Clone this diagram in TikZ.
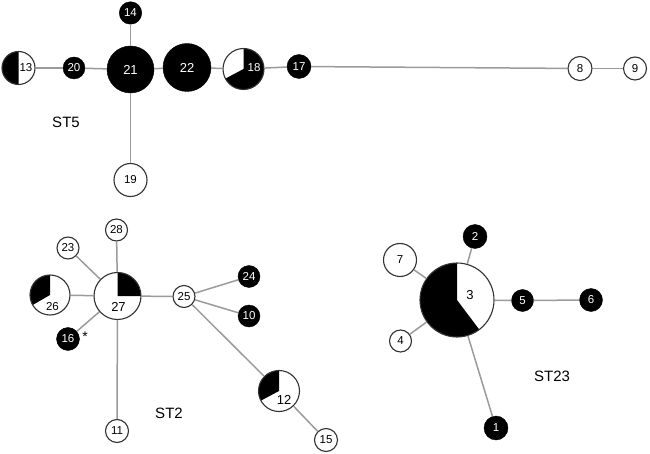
\documentclass[tikz,border=0pt]{standalone}
\usepackage{fontspec}
\setmainfont{Liberation Sans}
\definecolor{edgegray}{RGB}{155,155,155}
\definecolor{bordergray}{RGB}{50,50,50}
\tikzset{
  edge/.style={draw=edgegray, line width=1.5pt},
  numfont/.style={font=\fontsize{11.5}{13}\selectfont},
  bigfont/.style={font=\fontsize{13}{15}\selectfont},
  bn/.style={circle, draw=black, fill=black, text=white, inner sep=0pt, minimum size=#1, numfont},
  wn/.style={circle, draw=bordergray, fill=white, line width=1.1pt, inner sep=0pt, minimum size=#1, numfont},
  pie/.style n args={3}{circle, draw=bordergray, fill=white, line width=1.1pt, inner sep=0pt, minimum size=#1,
    path picture={\fill[black] (path picture bounding box.center) -- ++(#2:#1/2) arc[start angle=#2, end angle=#3, radius=#1/2] -- cycle;}},
  grouplabel/.style={font=\fontsize{15}{17}\selectfont, inner sep=0pt},
  pietext/.style={inner sep=0pt, numfont},
}
\begin{document}
\begin{tikzpicture}[x=1pt, y=-1pt]
\fill[white] (0,0) rectangle (650,454);
\useasboundingbox (0,0) rectangle (650,454);
% ST5
\node[pie={33pt}{90}{270}] (n13) at (18.5,68) {};
\node[bn=22pt] (n20) at (74,68) {20};
\node[bn=47pt, bigfont] (n21) at (130.5,69.5) {21};
\node[bn=22.5pt] (n14) at (130.5,13) {14};
\node[bn=48pt, bigfont] (n22) at (187,67.5) {22};
\node[pie={41pt}{208}{450}] (n18) at (243.5,69) {};
\node[bn=24pt] (n17) at (299,66.5) {17};
\node[wn=24pt] (n8) at (580,68.5) {8};
\node[wn=23pt] (n9) at (635,68.5) {9};
\node[wn=33pt] (n19) at (130.5,180) {19};
\node[pietext] (t13) at (26,68) {13};
\node[pietext, text=white] (t18) at (254,68) {18};
\node[grouplabel] (st5) at (66,122) {ST5};
\draw[edge] (n13) -- (n20);
\draw[edge] (n20) -- (n21);
\draw[edge] (n21) -- (n14);
\draw[edge] (n21) -- (n22);
\draw[edge] (n22) -- (n18);
\draw[edge] (n18) -- (n17);
\draw[edge] (n17) -- (n8);
\draw[edge] (n8) -- (n9);
\draw[edge] (n21) -- (n19);
% ST2
\node[wn=22pt] (n28) at (116.5,230) {28};
\node[wn=22pt] (n23) at (68,248) {23};
\node[pie={47pt}{0}{90}] (n27) at (117.5,296) {};
\node[pie={40pt}{90}{210}] (n26) at (50,295) {};
\node[bn=23pt] (n16) at (68,339) {16};
\node[inner sep=0pt, font=\fontsize{14}{16}\selectfont] (ast) at (85,337) {*};
\node[wn=23pt] (n11) at (117,431) {11};
\node[wn=22pt] (n25) at (184,296.5) {25};
\node[bn=22pt] (n24) at (249,276.5) {24};
\node[bn=22pt] (n10) at (249,316) {10};
\node[pie={41pt}{90}{208}] (n12) at (279,391) {};
\node[wn=23pt] (n15) at (326,440) {15};
\node[pietext, bigfont] (t27) at (118.5,307) {27};
\node[pietext] (t26) at (52.5,306.5) {26};
\node[pietext, bigfont] (t12) at (284,400) {12};
\node[grouplabel] (st2) at (169,413) {ST2};
\draw[edge] (n27) -- (n28);
\draw[edge] (n27) -- (n23);
\draw[edge] (n27) -- (n26);
\draw[edge] (n27) -- (n16);
\draw[edge] (n27) -- (n11);
\draw[edge] (n27) -- (n25);
\draw[edge] (n25) -- (n24);
\draw[edge] (n25) -- (n10);
\draw[edge] (n25) -- (n12);
\draw[edge] (n12) -- (n15);
% ST23
\node[pie={74pt}{90}{307}] (n3) at (457,300) {};
\node[bn=24pt] (n2) at (475,236.5) {2};
\node[wn=33pt] (n7) at (400,260) {7};
\node[wn=22pt] (n4) at (400.5,341) {4};
\node[bn=22pt] (n5) at (522.5,300.5) {5};
\node[bn=23pt] (n6) at (591,300) {6};
\node[bn=24pt] (n1) at (496,428) {1};
\node[pietext, bigfont] (t3) at (470,295) {3};
\node[grouplabel] (st23) at (552,376) {ST23};
\draw[edge] (n3) -- (n2);
\draw[edge] (n3) -- (n7);
\draw[edge] (n3) -- (n4);
\draw[edge] (n3) -- (n5);
\draw[edge] (n5) -- (n6);
\draw[edge] (n3) -- (n1);
\end{tikzpicture}
\end{document}
